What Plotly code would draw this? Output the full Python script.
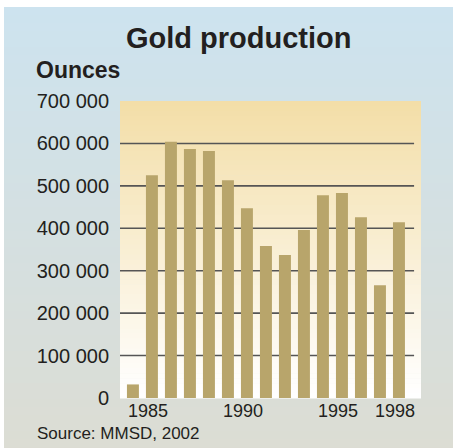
"""Gold production bar chart (Source: MMSD, 2002)."""

import plotly.graph_objects as go

years = list(range(1984, 1999))
ounces = [32000, 525000, 604000, 587000, 582000, 513000, 447000, 358000,
          337000, 396000, 478000, 483000, 426000, 266000, 414000]

x_ticks = [1985, 1990, 1995, 1998]
y_ticks = [0, 100000, 200000, 300000, 400000, 500000, 600000, 700000]
y_tick_labels = ["0", "100 000", "200 000", "300 000", "400 000",
                 "500 000", "600 000", "700 000"]

FONT = "Liberation Sans, Arial, sans-serif"
INK = "#231f20"


def _mix(c0, c1, t):
    return "rgb({},{},{})".format(*[round(a + (b - a) * t) for a, b in zip(c0, c1)])


def _bands(x0, x1, y0, y1, top, bottom, n=60):
    """Vertical gradient as a stack of thin rectangles (paper coords)."""
    out = []
    h = (y1 - y0) / n
    for i in range(n):
        t = i / (n - 1)
        out.append(dict(
            type="rect", xref="paper", yref="paper", layer="below",
            x0=x0, x1=x1, y0=y1 - (i + 1) * h - 0.002, y1=y1 - i * h,
            line=dict(width=0), fillcolor=_mix(top, bottom, t),
        ))
    return out


shapes = []
# outer panel: light blue -> grey beige
shapes += _bands(-0.3854, 1.2, -0.3, 1.3165, (205, 227, 239), (221, 220, 209))
# plot area: sand -> white
shapes += _bands(0, 1, 0, 1, (243, 222, 168), (255, 255, 255))
# grid lines, stopping a little short of the right edge
for v in y_ticks[1:-1]:
    shapes.append(dict(
        type="line", xref="paper", yref="y", layer="below",
        x0=0, x1=0.977, y0=v, y1=v,
        line=dict(color="#555555", width=1.6),
    ))

fig = go.Figure()
fig.add_trace(go.Bar(
    x=years,
    y=ounces,
    marker=dict(color="#b8a56b", line=dict(width=0)),
    hovertemplate="%{x}<br>%{y:,} oz<extra></extra>",
))

fig.update_layout(
    width=453,
    height=448,
    margin=dict(l=120, r=32, t=101, b=50),
    paper_bgcolor="white",
    plot_bgcolor="rgba(0,0,0,0)",
    bargap=0.37,
    showlegend=False,
    font=dict(family=FONT, color=INK),
    shapes=shapes,
    xaxis=dict(
        range=[1983.32, 1999.16],
        tickvals=x_ticks,
        ticks="",
        ticklabelshift=-4,
        tickfont=dict(size=18, color=INK),
        showgrid=False, zeroline=False, showline=False,
    ),
    yaxis=dict(
        range=[0, 700000],
        tickvals=y_ticks,
        ticktext=y_tick_labels,
        ticks="outside", ticklen=6, tickcolor="rgba(0,0,0,0)",
        tickfont=dict(size=20, color=INK),
        showgrid=False, zeroline=False, showline=False,
    ),
    annotations=[
        dict(text="<b>Gold production</b>", xref="paper", yref="paper",
             x=0.397, y=1.212, xanchor="center", yanchor="middle",
             showarrow=False, font=dict(size=29, color=INK)),
        dict(text="<b>Ounces</b>", xref="paper", yref="paper",
             x=-0.285, y=1.104, xanchor="left", yanchor="middle",
             showarrow=False, font=dict(size=23, color=INK)),
        dict(text="Source: MMSD, 2002", xref="paper", yref="paper",
             x=-0.282, y=-0.1195, xanchor="left", yanchor="middle",
             showarrow=False, font=dict(size=17, color=INK)),
    ],
)

fig.write_html(
    "out.html",
    config={"displayModeBar": False},
    post_script="document.body.style.margin='0';",
)
